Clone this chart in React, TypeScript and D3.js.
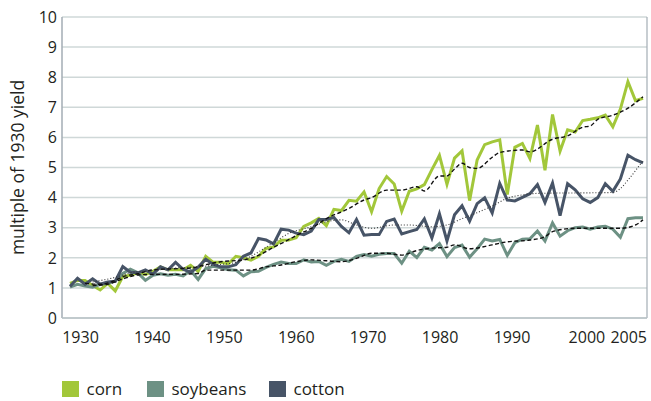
import React from "react";
import * as d3 from "d3";

const years: number[] = d3.range(1930, 2007);

const corn: number[] = [
  1.15, 1.25, 1.25, 1.08, 0.93, 1.15, 0.9, 1.38, 1.42, 1.5,
  1.45, 1.55, 1.7, 1.6, 1.6, 1.6, 1.75, 1.55, 2.05, 1.85,
  1.85, 1.8, 2.05, 2.0, 1.92, 2.05, 2.31, 2.36, 2.58, 2.59,
  2.67, 3.04, 3.16, 3.31, 3.07, 3.61, 3.57, 3.91, 3.88, 4.19,
  3.53, 4.3, 4.7, 4.45, 3.55, 4.21, 4.29, 4.43, 4.93, 5.4,
  4.44, 5.31, 5.55, 3.9, 5.25, 5.76, 5.85, 5.92, 4.1, 5.67,
  5.8, 5.3, 6.41, 4.91, 6.76, 5.54, 6.25, 6.18, 6.56, 6.6,
  6.65, 6.74, 6.35, 6.94, 7.85, 7.22, 7.3,
];

const soybeans: number[] = [
  1.03, 1.12, 1.06, 1.02, 1.12, 1.15, 1.22, 1.48, 1.62, 1.5,
  1.25, 1.42, 1.47, 1.42, 1.45, 1.4, 1.58, 1.28, 1.64, 1.72,
  1.67, 1.6, 1.59, 1.4, 1.54, 1.55, 1.68, 1.78, 1.86, 1.81,
  1.81, 1.93, 1.86, 1.88, 1.75, 1.88, 1.95, 1.88, 2.05, 2.11,
  2.05, 2.12, 2.14, 2.14, 1.82, 2.22, 2.01, 2.35, 2.26, 2.47,
  2.04, 2.34, 2.42, 2.02, 2.3, 2.62, 2.56, 2.61, 2.08, 2.5,
  2.62, 2.63, 2.89, 2.56, 3.16, 2.72, 2.9, 3.0, 3.02, 2.95,
  3.02, 3.05, 2.95, 2.68, 3.3, 3.33, 3.33,
];

const cotton: number[] = [
  1.05, 1.32, 1.12, 1.3, 1.12, 1.2, 1.22, 1.71, 1.52, 1.5,
  1.6, 1.46, 1.7, 1.6, 1.85, 1.62, 1.52, 1.69, 1.95, 1.78,
  1.7, 1.7, 1.77, 2.05, 2.16, 2.64, 2.59, 2.46, 2.95, 2.92,
  2.82, 2.77, 2.89, 3.27, 3.27, 3.34, 3.04, 2.83, 3.27, 2.75,
  2.77, 2.77, 3.21, 3.29, 2.79, 2.87, 2.94, 3.29, 2.66, 3.46,
  2.56, 3.43, 3.73, 3.22, 3.8, 3.99, 3.49, 4.47, 3.92, 3.89,
  4.01, 4.13, 4.43, 3.84, 4.48, 3.4, 4.46, 4.26, 3.96, 3.84,
  4.0, 4.46, 4.21, 4.62, 5.41, 5.26, 5.15,
];

const cornTrend: [number, number][] = [
  [1932, 1.15], [1934, 1.12], [1936, 1.25], [1937, 1.37], [1939, 1.47], [1941, 1.6],
  [1943, 1.63], [1946, 1.66], [1948, 1.77], [1950, 1.87], [1953, 1.93], [1955, 2.08],
  [1957, 2.35], [1959, 2.6], [1960, 2.74], [1962, 2.98], [1964, 3.3], [1967, 3.64],
  [1969, 3.92], [1970, 4.0], [1972, 4.25], [1974, 4.25], [1976, 4.36], [1977, 4.22],
  [1979, 4.72], [1980, 4.72], [1981, 4.95], [1982, 5.14], [1983, 5.0], [1984, 4.97],
  [1986, 5.34], [1987, 5.5], [1990, 5.58], [1991, 5.52], [1994, 5.94], [1996, 6.05],
  [1998, 6.34], [1999, 6.38], [2000, 6.6], [2002, 6.74], [2004, 6.97], [2006, 7.35],
];

const soyTrend: [number, number][] = [
  [1933, 1.08], [1935, 1.12], [1937, 1.3], [1939, 1.43], [1941, 1.45], [1944, 1.45],
  [1947, 1.48], [1948, 1.59], [1951, 1.59], [1954, 1.59], [1956, 1.7], [1958, 1.76],
  [1960, 1.87], [1962, 1.93], [1964, 1.9], [1966, 1.87], [1968, 1.98], [1970, 2.15],
  [1972, 2.15], [1974, 2.09], [1976, 2.24], [1978, 2.32], [1980, 2.35], [1981, 2.43],
  [1983, 2.3], [1986, 2.43], [1988, 2.53], [1991, 2.59], [1993, 2.7], [1994, 2.87],
  [1997, 2.98], [2000, 2.98], [2003, 2.98], [2005, 3.09], [2006, 3.26],
];

const cottonTrend: [number, number][] = [
  [1933, 1.2], [1936, 1.35], [1938, 1.5], [1941, 1.58], [1944, 1.66], [1947, 1.7],
  [1950, 1.78], [1952, 1.85], [1954, 2.05], [1956, 2.35], [1957, 2.5], [1959, 2.81],
  [1962, 3.03], [1964, 3.2], [1966, 3.26], [1968, 3.09], [1970, 2.98], [1973, 3.09],
  [1975, 3.09], [1978, 3.03], [1980, 3.09], [1982, 3.3], [1984, 3.5], [1986, 3.72],
  [1988, 3.98], [1990, 4.09], [1992, 4.14], [2002, 4.17], [2003, 4.3], [2004, 4.58],
  [2006, 5.23],
];

const xTickLabels: number[] = [1930, 1940, 1950, 1960, 1970, 1980, 1990, 2000, 2005];
const yTicks: number[] = d3.range(0, 11);

const seriesNames: string[] = ["corn", "soybeans", "cotton"];
const seriesColors: string[] = ["#a2c73a", "#6d9184", "#475467"];

const W = 651;
const H = 401;
const plotLeft = 62;
const plotRight = 647;
const plotTop = 17;
const plotBottom = 318;

export default function App() {
  const x = d3.scaleLinear().domain([1930, 2006]).range([70, 643]);
  const xLabel = d3.scaleLinear().domain([1930, 1990]).range([80.5, 512]);
  const y = d3.scaleLinear().domain([0, 10]).range([plotBottom, plotTop]);

  const line = d3
    .line<number>()
    .x((_, i) => x(years[i]))
    .y((d) => y(d));
  const trendLine = d3
    .line<[number, number]>()
    .x((d) => x(d[0]))
    .y((d) => y(d[1]))
    .curve(d3.curveMonotoneX);

  const data = [corn, soybeans, cotton];
  const font = "'Open Sans', 'Noto Sans', sans-serif";
  const legendX = [62, 147, 269];

  return (
    <div style={{ position: "fixed", left: 0, top: 0, width: W, height: H, overflow: "hidden" }}>
      <svg width={W} height={H} style={{ display: "block", background: "#fff" }} fontFamily={font}>
        {yTicks.map((t) => (
          <line key={"g" + t} x1={plotLeft} x2={plotRight} y1={y(t)} y2={y(t)} stroke="#cfd8d8" strokeWidth={1.5} />
        ))}
        <line x1={plotLeft} x2={plotLeft} y1={plotTop} y2={plotBottom} stroke="#a3adb5" strokeWidth={1.5} />
        <line x1={plotRight} x2={plotRight} y1={plotTop} y2={plotBottom} stroke="#a3adb5" strokeWidth={1.2} />
        <line x1={plotLeft} x2={plotRight} y1={plotBottom} y2={plotBottom} stroke="#b8c2c6" strokeWidth={1.5} />
        {yTicks.map((t) => (
          <text key={"y" + t} x={57} y={y(t)} dy="0.36em" textAnchor="end" fontSize={16} fill="#231f20">
            {t}
          </text>
        ))}
        {xTickLabels.map((t) => (
          <text
            key={"x" + t}
            x={t === 2005 ? plotRight : t === 2000 ? xLabel(t) + 3 : xLabel(t)}
            y={343}
            textAnchor={t === 2005 ? "end" : "middle"}
            fontSize={16}
            fill="#231f20"
          >
            {t}
          </text>
        ))}
        <text
          transform={`translate(24,${(plotTop + plotBottom) / 2}) rotate(-90)`}
          textAnchor="middle"
          fontSize={17.5}
          fill="#231f20"
        >
          multiple of 1930 yield
        </text>
        {data.map((d, i) => (
          <path key={"s" + i} d={line(d) || ""} fill="none" stroke={seriesColors[i]} strokeWidth={3} strokeLinejoin="miter" />
        ))}
        <path d={trendLine(cornTrend) || ""} fill="none" stroke="#111" strokeWidth={1.4} strokeDasharray="4 2.5" />
        <path d={trendLine(soyTrend) || ""} fill="none" stroke="#111" strokeWidth={1.4} strokeDasharray="4 2.5" />
        <path d={trendLine(cottonTrend) || ""} fill="none" stroke="#333" strokeWidth={1.1} strokeDasharray="1 2" />
        {seriesNames.map((n, i) => (
          <g key={"l" + n}>
            <rect x={legendX[i]} y={381} width={17} height={16} fill={seriesColors[i]} />
            <text x={legendX[i] + 24.5} y={395} fontSize={17} fill="#231f20">
              {n}
            </text>
          </g>
        ))}
      </svg>
    </div>
  );
}
